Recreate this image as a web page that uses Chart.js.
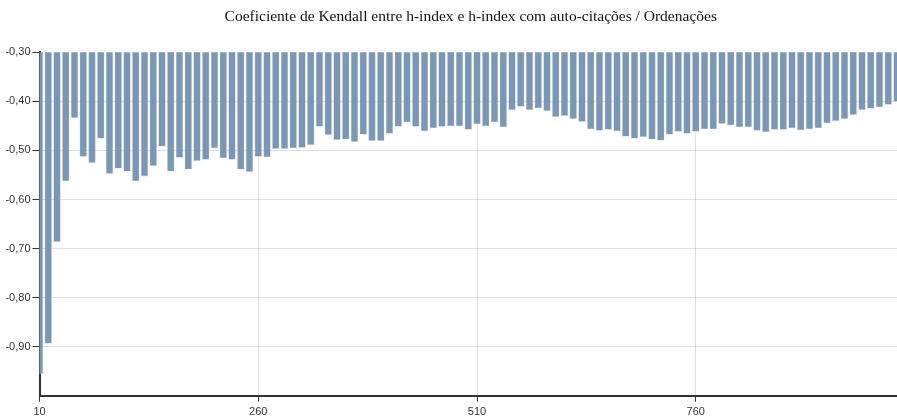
<!DOCTYPE html>
<html lang="pt">
<head>
<meta charset="utf-8">
<title>Coeficiente de Kendall</title>
<script src="https://cdn.jsdelivr.net/npm/chart.js@4/dist/chart.umd.min.js"></script>
<style>
  html, body { margin: 0; padding: 0; background: #ffffff; }
  #wrap { width: 897px; height: 419px; }
</style>
</head>
<body>
<div id="wrap"><canvas id="grafico" width="897" height="419"></canvas></div>
<script>
// Número de ordenações (eixo x)
const ordenacoes = [
  10, 20, 30, 40, 50, 60, 70, 80, 90, 100,
  110, 120, 130, 140, 150, 160, 170, 180, 190, 200,
  210, 220, 230, 240, 250, 260, 270, 280, 290, 300,
  310, 320, 330, 340, 350, 360, 370, 380, 390, 400,
  410, 420, 430, 440, 450, 460, 470, 480, 490, 500,
  510, 520, 530, 540, 550, 560, 570, 580, 590, 600,
  610, 620, 630, 640, 650, 660, 670, 680, 690, 700,
  710, 720, 730, 740, 750, 760, 770, 780, 790, 800,
  810, 820, 830, 840, 850, 860, 870, 880, 890, 900,
  910, 920, 930, 940, 950, 960, 970, 980, 990
];

// Coeficiente de Kendall para cada número de ordenações
const kendall = [
  -0.956, -0.894, -0.687, -0.563, -0.434, -0.513, -0.526, -0.476, -0.548, -0.537,
  -0.543, -0.563, -0.553, -0.532, -0.492, -0.543, -0.515, -0.539, -0.522, -0.519,
  -0.496, -0.516, -0.519, -0.539, -0.544, -0.513, -0.514, -0.497, -0.497, -0.496,
  -0.495, -0.489, -0.452, -0.469, -0.479, -0.478, -0.483, -0.468, -0.481, -0.481,
  -0.466, -0.452, -0.443, -0.452, -0.461, -0.455, -0.452, -0.451, -0.451, -0.458,
  -0.447, -0.451, -0.443, -0.453, -0.418, -0.411, -0.418, -0.414, -0.420, -0.432,
  -0.430, -0.436, -0.442, -0.457, -0.460, -0.458, -0.461, -0.472, -0.476, -0.473,
  -0.478, -0.480, -0.468, -0.462, -0.466, -0.462, -0.457, -0.457, -0.446, -0.449,
  -0.453, -0.453, -0.460, -0.463, -0.458, -0.458, -0.455, -0.459, -0.457, -0.455,
  -0.445, -0.440, -0.436, -0.428, -0.418, -0.415, -0.412, -0.407, -0.401
];

// Marcas dos eixos
const ticksX = [10, 260, 510, 760];
const ticksY = [-0.3, -0.4, -0.5, -0.6, -0.7, -0.8, -0.9];

const titulo = 'Coeficiente de Kendall entre h-index e h-index com auto-citações / Ordenações';

// Título centrado sobre a área do gráfico
const tituloArea = {
  id: 'tituloArea',
  afterDraw(chart) {
    const { ctx, chartArea } = chart;
    ctx.save();
    ctx.font = '15.5px "Liberation Serif", "Times New Roman", serif';
    ctx.fillStyle = '#111111';
    ctx.textAlign = 'center';
    ctx.textBaseline = 'middle';
    ctx.fillText(titulo, (chartArea.left + chartArea.right) / 2 + 2.5, 17);
    ctx.restore();
  }
};

const pontos = ordenacoes.map((x, i) => ({ x: x, y: kendall[i] }));

new Chart(document.getElementById('grafico'), {
  type: 'bar',
  data: {
    datasets: [{
      data: pontos,
      backgroundColor: '#7b97b4',
      borderColor: 'rgba(200, 215, 230, 0.8)',
      borderWidth: 0.6,
      barPercentage: 0.86,
      categoryPercentage: 1.0
    }]
  },
  plugins: [tituloArea],
  options: {
    responsive: false,
    animation: false,
    layout: { padding: { top: 52.3, left: 0, right: 0, bottom: 0 } },
    plugins: {
      legend: { display: false },
      title: { display: false },
      tooltip: { enabled: false }
    },
    scales: {
      x: {
        type: 'linear',
        min: 10,
        max: 990,
        offset: false,
        z: 1,
        afterBuildTicks(scale) { scale.ticks = ticksX.map(v => ({ value: v })); },
        afterFit(scale) { scale.height = 23.3; },
        grid: {
          offset: false,
          color: 'rgba(0, 0, 0, 0.12)',
          lineWidth: 1,
          tickColor: '#333333',
          tickLength: 6
        },
        border: { color: '#333333', width: 2 },
        ticks: {
          autoSkip: false,
          maxRotation: 0,
          padding: 4,
          color: '#333333',
          font: { family: '"Liberation Sans", Arial, sans-serif', size: 11 },
          callback: v => String(v)
        }
      },
      y: {
        type: 'linear',
        min: -1,
        max: -0.3,
        beginAtZero: false,
        z: 1,
        afterBuildTicks(scale) { scale.ticks = ticksY.map(v => ({ value: v })); },
        afterFit(scale) { scale.width = 39.5; },
        grid: {
          color: ctx => (ctx.tick && Math.abs(ctx.tick.value + 0.3) < 1e-9) ? 'rgba(0,0,0,0)' : 'rgba(0, 0, 0, 0.12)',
          lineWidth: 1,
          tickColor: '#333333',
          tickLength: 7
        },
        border: { color: '#333333', width: 2 },
        ticks: {
          padding: 2,
          color: '#333333',
          font: { family: '"Liberation Sans", Arial, sans-serif', size: 11 },
          callback: v => Number(v).toFixed(2).replace('.', ',')
        }
      }
    }
  }
});
</script>
</body>
</html>
